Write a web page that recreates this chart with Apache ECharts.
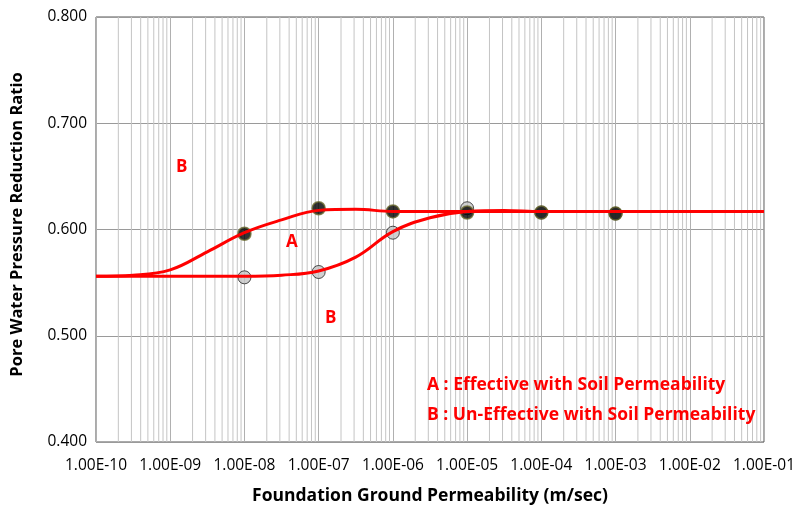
<!DOCTYPE html>
<html><head><meta charset="utf-8">
<script src="https://cdn.jsdelivr.net/npm/echarts@6/dist/echarts.min.js"></script>
<style>html,body{margin:0;padding:0;background:#fff}#c{width:796px;height:506px}</style>
</head><body><div id="c"></div>
<script>
// Measured points
var pointsX = [1e-8, 1e-7, 1e-6, 1e-5, 1e-4, 1e-3];
var pointsA = [0.596, 0.620, 0.617, 0.616, 0.616, 0.615];
var pointsB = [0.555, 0.560, 0.597, 0.620, 0.616, 0.615];
// Curves (half-decade steps)
var curveAX = [1e-10, 3.16e-10, 1e-9, 3.16e-9, 1e-8, 3.16e-8, 1e-7, 3.16e-7, 1e-6, 3.16e-6, 1e-5, 1e-4, 1e-3, 1e-2, 1e-1];
var curveAY = [0.556, 0.557, 0.562, 0.579, 0.597, 0.609, 0.618, 0.619, 0.617, 0.617, 0.617, 0.617, 0.617, 0.617, 0.617];
var curveBX = [1e-10, 1e-9, 1e-8, 3.16e-8, 1e-7, 3.16e-7, 1e-6, 3.16e-6, 1e-5, 3.16e-5, 1e-4, 1e-3, 1e-2, 1e-1];
var curveBY = [0.556, 0.556, 0.556, 0.557, 0.561, 0.574, 0.598, 0.611, 0.617, 0.618, 0.617, 0.617, 0.617, 0.617];
var xMin = 1e-10, xMax = 1e-1;

function zip(xs, ys){ return xs.map(function(x,i){ return [x, ys[i]]; }); }
function fmtE(v){
  var e = Math.round(Math.log10(v));
  var m = v / Math.pow(10, e);
  var s = e < 0 ? '-' : '+';
  var a = Math.abs(e);
  return m.toFixed(2) + 'E' + s + (a < 10 ? '0' + a : '' + a);
}
// minor gridline positions at 2..9 of each decade
var minorX = [];
for (var d = -10; d <= -2; d++) {
  for (var k = 2; k <= 9; k++) minorX.push([k * Math.pow(10, d)]);
}

var chart = echarts.init(document.getElementById('c'));
var red = '#ff0000';
var FF = '"Open Sans"';
chart.setOption({
  animation: false,
  grid: {left: 96, right: 32, top: 17, bottom: 64, show: true, borderColor: '#555', borderWidth: 1,
         outerBoundsMode: 'none', containLabel: false},
  xAxis: {
    type: 'log', logBase: 10, min: xMin, max: xMax,
    name: 'Foundation Ground Permeability (m/sec)', nameLocation: 'middle', nameGap: 45,
    nameTextStyle: {fontFamily: 'Open Sans', fontWeight: 'bold', fontSize: 17.5, color: '#000'},
    axisLine: {show: false}, axisTick: {show: false},
    axisLabel: {formatter: fmtE, fontFamily: 'Open Sans', fontSize: 15.5, color: '#000', margin: 16},
    splitLine: {show: true, lineStyle: {color: '#b0b0b0', width: 1}}
  },
  yAxis: {
    type: 'value', min: 0.4, max: 0.8, interval: 0.1,
    name: 'Pore Water Pressure Reduction Ratio', nameLocation: 'middle', nameGap: 70,
    nameTextStyle: {fontFamily: 'Open Sans', fontWeight: 'bold', fontSize: 16.5, color: '#000', padding: [0, 0, 0, 10]},
    axisLine: {show: false}, axisTick: {show: false},
    axisLabel: {formatter: function(v){ return v.toFixed(3); }, fontFamily: 'Open Sans', fontSize: 15.5, color: '#000', margin: 9},
    splitLine: {show: true, lineStyle: {color: '#9a9a9a', width: 1}}
  },
  series: [
    {type: 'custom', data: minorX, silent: true, z: 1, clip: true,
     encode: {x: 0},
     renderItem: function(params, api){
       var top = api.coord([api.value(0), 0.8]);
       var bot = api.coord([api.value(0), 0.4]);
       return {type: 'line', shape: {x1: top[0], y1: top[1], x2: bot[0], y2: bot[1]},
               style: {stroke: '#c4c4c4', lineWidth: 1}};
     }},
    {type: 'scatter', data: zip(pointsX, pointsB), symbol: 'circle', symbolSize: 13, z: 3,
     itemStyle: {color: '#c4c4c4', borderColor: '#222', borderWidth: 1}},
    {type: 'scatter', data: zip(pointsX, pointsA), symbol: 'circle', symbolSize: 13, z: 4,
     itemStyle: {color: '#000', borderColor: '#6b6b30', borderWidth: 1.5}},
    {type: 'line', data: zip(curveAX, curveAY), smooth: 0.4, showSymbol: false, z: 5,
     lineStyle: {color: red, width: 3}},
    {type: 'line', data: zip(curveBX, curveBY), smooth: 0.4, showSymbol: false, z: 5,
     lineStyle: {color: red, width: 3}}
  ],
  graphic: [
    {type: 'text', left: 176, top: 159, z: 10, style: {text: 'B', fill: red, font: 'bold 17px ' + FF}},
    {type: 'text', left: 286, top: 234, z: 10, style: {text: 'A', fill: red, font: 'bold 17px ' + FF}},
    {type: 'text', left: 325, top: 310, z: 10, style: {text: 'B', fill: red, font: 'bold 17px ' + FF}},
    {type: 'text', left: 427, top: 376, z: 10, style: {text: 'A : Effective with Soil Permeability', fill: red, font: 'bold 17.5px ' + FF}},
    {type: 'text', left: 427, top: 406, z: 10, style: {text: 'B : Un-Effective with Soil Permeability', fill: red, font: 'bold 17.5px ' + FF}}
  ]
});
</script></body></html>
